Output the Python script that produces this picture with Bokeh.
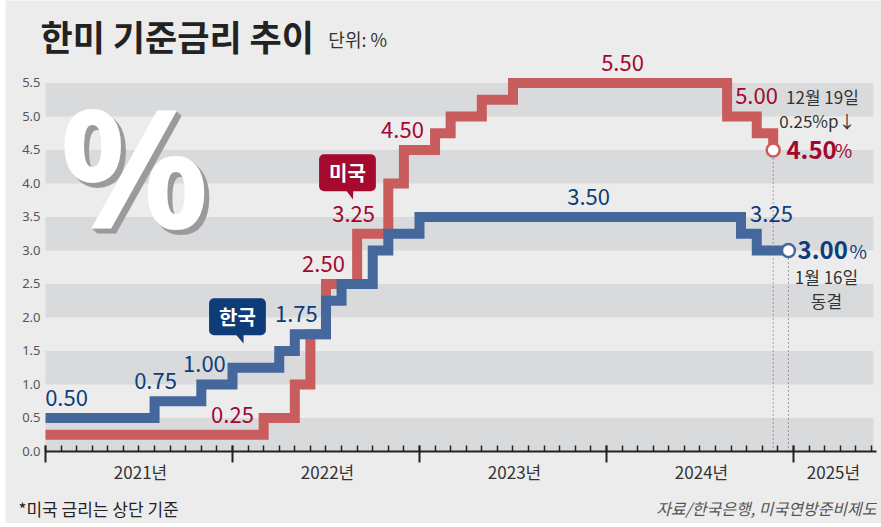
import calendar
from bokeh.plotting import figure
from bokeh.models import FixedTicker, LinearAxis, BoxAnnotation, Label, PrintfTickFormatter
from bokeh.core.properties import value
from bokeh.embed import file_html
from bokeh.resources import INLINE

# ---------------- data ----------------
us_dates = ["2021-01-01", "2022-03-01", "2022-05-01", "2022-06-01", "2022-07-01",
            "2022-09-01", "2022-11-01", "2022-12-01", "2023-02-01", "2023-03-01",
            "2023-05-01", "2023-07-01", "2024-08-24", "2024-10-21", "2024-11-22"]
us_rates = [0.25, 0.50, 1.00, 1.75, 2.50, 3.25, 4.00, 4.50, 4.75, 5.00, 5.25, 5.50,
            5.00, 4.75, 4.50]

kr_dates = ["2021-01-01", "2021-08-01", "2021-11-01", "2022-01-01", "2022-04-01",
            "2022-05-01", "2022-07-01", "2022-08-01", "2022-10-01", "2022-11-01",
            "2023-01-01", "2024-09-20", "2024-10-21", "2024-12-22"]
kr_rates = [0.50, 0.75, 1.00, 1.25, 1.50, 1.75, 2.25, 2.50, 3.00, 3.25, 3.50, 3.25,
            3.00, 3.00]

us_label_vals = [0.25, 2.50, 3.25, 4.50, 5.50, 5.00]
kr_label_vals = [0.50, 0.75, 1.00, 1.75, 3.50, 3.25]

year_labels = ["2021년", "2022년", "2023년", "2024년", "2025년"]
y_ticks = [0.0, 0.5, 1.0, 1.5, 2.0, 2.5, 3.0, 3.5, 4.0, 4.5, 5.0, 5.5]

# ---------------- helpers ----------------
def to_month(s):
    y, m, d = (int(t) for t in s.split("-"))
    return (y - 2021) * 12 + (m - 1) + (d - 1) / calendar.monthrange(y, m)[1]

us_x = [to_month(d) for d in us_dates]
kr_x = [to_month(d) for d in kr_dates]

# ---------------- styles / layout ----------------
RED_LINE = "#c95d5d"
BLUE_LINE = "#44679c"
RED_TXT = "#a3072f"
BLUE_TXT = "#0f3d79"
BAND = "#d9dadc"
BG = "#ececec"
KR_FONT = "Noto Sans CJK KR"

X_END = 53.13          # right end of the chart area (months)
us_label_x = [12.0, 17.84, 19.77, 22.91, 37.03, 45.63]
kr_label_x = [1.35, 7.06, 10.2, 16.1, 34.85, 46.59]
year_label_x = [6.1, 18.1, 30.1, 42.1, 50.57]

p = figure(width=876, height=523, x_range=(-2.567, 53.65), y_range=(-1.0746, 6.731),
           output_backend="svg", toolbar_location=None,
           background_fill_color=BG, border_fill_color=BG,
           min_border=0, min_border_left=0, min_border_right=0, min_border_top=0,
           min_border_bottom=0, outline_line_color=None)
p.margin = (0, 0, 0, 5)
p.grid.visible = False

# y axis (fixed at x = 0)
ya = p.yaxis[0]
ya.fixed_location = 0
ya.ticker = FixedTicker(ticks=y_ticks)
ya.formatter = PrintfTickFormatter(format="%.1f")
ya.axis_line_color = None
ya.major_tick_line_color = None
ya.minor_tick_line_color = None
ya.major_tick_in = 0
ya.major_tick_out = 0
ya.major_label_standoff = 5
ya.major_label_text_font = "Noto Sans"
ya.major_label_text_font_size = "13px"
ya.major_label_text_color = "#555555"

# x axis (ticks, fixed at y = 0)
xa = p.xaxis[0]
xa.fixed_location = 0
xa.bounds = (0, 53.3)
xa.ticker = FixedTicker(ticks=[0, 12, 24, 36, 48], minor_ticks=list(range(0, 54)))
xa.major_label_text_color = None
xa.axis_line_width = 2
xa.axis_line_color = "#222222"
xa.major_tick_line_color = "#222222"
xa.major_tick_line_width = 2
xa.major_tick_in = 6
xa.major_tick_out = 11
xa.minor_tick_line_color = "#222222"
xa.minor_tick_line_width = 1.5
xa.minor_tick_in = 6
xa.minor_tick_out = 0

# x axis (year labels)
xa2 = LinearAxis(ticker=FixedTicker(ticks=year_label_x), fixed_location=0,
                 major_label_overrides={v: t for v, t in zip(year_label_x, year_labels)},
                 axis_line_color=None, major_tick_line_color=None,
                 minor_tick_line_color=None, major_tick_in=0, major_tick_out=0,
                 major_label_standoff=8, major_label_text_font=KR_FONT,
                 major_label_text_font_size="17px", major_label_text_color="#333333")
p.add_layout(xa2, "below")

# bands
for b in y_ticks[::2]:
    p.add_layout(BoxAnnotation(left=0, right=X_END, bottom=b, top=b + 0.5,
                               fill_color=BAND, fill_alpha=1, line_color=None,
                               level="underlay"))

# big decorative %
p.text(x=[5.71] * 6, y=[4.28] * 6, text=["%"] * 6,
       x_offset=[5, 4, 3, 2, 1, 0], y_offset=[5, 4, 3, 2, 1, 0],
       text_color=["#9a9b9e"] * 5 + ["#ffffff"],
       text_font=value("Noto Sans"), text_font_style="bold", text_font_size="166px",
       text_align="center", text_baseline="middle")

# dotted guides
p.segment(x0=[us_x[-1], kr_x[-1]], y0=[0, 0], x1=[us_x[-1], kr_x[-1]],
          y1=[us_rates[-1], kr_rates[-1]], line_color="#555555", line_width=1,
          line_dash="1 3")

# lines
p.step(us_x, us_rates, mode="after", line_color=RED_LINE, line_width=10, line_join="miter")
p.step(kr_x, kr_rates, mode="after", line_color=BLUE_LINE, line_width=10, line_join="miter")

# end dots
p.scatter([us_x[-1]], [us_rates[-1]], size=13, fill_color="white", line_color=RED_LINE, line_width=2.5)
p.scatter([kr_x[-1]], [kr_rates[-1]], size=13, fill_color="white", line_color=BLUE_LINE, line_width=2.5)

# value labels
p.text(x=us_label_x, y=us_label_vals, text=[f"{v:.2f}" for v in us_label_vals],
       y_offset=-20, text_color=RED_TXT, text_font=value(KR_FONT), text_font_size="22px",
       text_align="center", text_baseline="middle")
p.text(x=kr_label_x, y=kr_label_vals, text=[f"{v:.2f}" for v in kr_label_vals],
       y_offset=-20, text_color=BLUE_TXT, text_font=value(KR_FONT), text_font_size="22px",
       text_align="center", text_baseline="middle")

# final values
p.text(x=[47.55], y=[us_rates[-1]], text=[f"{us_rates[-1]:.2f}"], text_color=RED_TXT,
       text_font=value(KR_FONT), text_font_style="bold", text_font_size="24px",
       text_align="left", text_baseline="middle")
p.text(x=[50.65], y=[us_rates[-1]], text=["%"], text_color=RED_TXT,
       text_font=value(KR_FONT), text_font_size="19px", text_align="left", text_baseline="middle")
p.text(x=[48.26], y=[kr_rates[-1]], text=[f"{kr_rates[-1]:.2f}"], text_color=BLUE_TXT,
       text_font=value(KR_FONT), text_font_style="bold", text_font_size="24px",
       text_align="left", text_baseline="middle")
p.text(x=[51.6], y=[kr_rates[-1]], text=["%"], text_color=BLUE_TXT,
       text_font=value(KR_FONT), text_font_size="19px", text_align="left", text_baseline="middle")

# notes
p.text(x=[49.86, 49.54, 50.12, 50.12], y=[5.30, 4.94, 2.61, 2.25],
       text=["12월 19일", "0.25%p↓", "1월 16일", "동결"], text_color="#333333",
       text_font=value(KR_FONT), text_font_size="17px", text_align="center",
       text_baseline="middle")

# callouts
p.patch([19.12, 19.76, 19.73], [3.95, 3.95, 3.76], fill_color="#a50a2e", line_color=None)
p.add_layout(Label(x=19.38, y=4.16, text="미국", text_align="center", text_baseline="middle",
                   text_color="white", text_font=KR_FONT, text_font_size="20px",
                   text_font_style="bold", background_fill_color="#a50a2e",
                   border_radius=5, padding=(10, 4)))
p.patch([11.98, 12.71, 12.71], [1.81, 1.81, 1.61], fill_color="#0d3c78", line_color=None)
p.add_layout(Label(x=12.32, y=2.01, text="한국", text_align="center", text_baseline="middle",
                   text_color="white", text_font=KR_FONT, text_font_size="20px",
                   text_font_style="bold", background_fill_color="#0d3c78",
                   border_radius=5, padding=(10, 4)))

# title / unit / footer
p.add_layout(Label(x=-0.32, y=6.21, text="한미 기준금리 추이", text_align="left",
                   text_baseline="middle", text_color="#222222", text_font=KR_FONT,
                   text_font_size="35px", text_font_style="bold"))
p.add_layout(Label(x=18.15, y=6.15, text="단위: %", text_align="left",
                   text_baseline="middle", text_color="#333333", text_font=KR_FONT,
                   text_font_size="18px"))
p.add_layout(Label(x=-1.73, y=-0.85, text="*미국 금리는 상단 기준", text_align="left",
                   text_baseline="middle", text_color="#222222", text_font=KR_FONT,
                   text_font_size="17px"))
p.add_layout(Label(x=53.33, y=-0.85, text="자료/한국은행, 미국연방준비제도", text_align="right",
                   text_baseline="middle", text_color="#555555", text_font=KR_FONT,
                   text_font_size="16px", text_font_style="italic"))

open("out.html", "w").write(file_html(p, INLINE))
